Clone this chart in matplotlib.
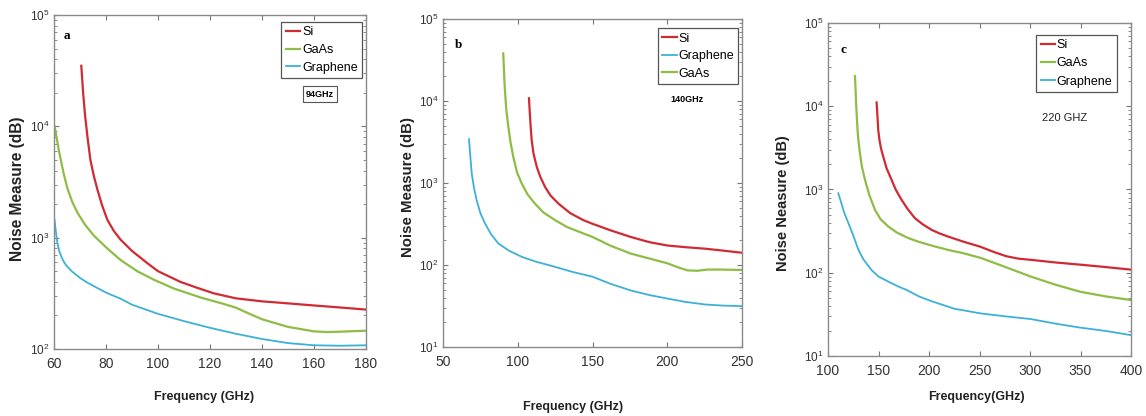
import matplotlib
matplotlib.use('Agg')
import matplotlib.pyplot as plt
from matplotlib.ticker import LogLocator, NullFormatter
import numpy as np

plt.rcParams['font.family'] = ['Liberation Sans', 'DejaVu Sans']

RED = '#d02a33'
GREEN = '#8dbd45'
BLUE = '#3cb1d6'

# (a) 94 GHz
a_si_f = [70.5, 71.2, 72, 73, 74, 75.3, 76.7, 78.5, 80.5, 83, 85.6, 90, 95.9, 100, 108.7, 115, 121.5, 130, 140, 150, 160, 170, 180]
a_si_v = [35000, 20000, 12200, 7600, 5000, 3600, 2700, 1950, 1450, 1150, 960, 760, 590, 500, 400, 355, 316, 285, 268, 257, 246, 236, 226]
a_gaas_f = [60.2, 60.6, 61.1, 61.8, 62.6, 63.8, 65.1, 67, 69, 72, 75.4, 80, 85.6, 92, 98.5, 106, 116.4, 125, 130, 135, 140, 150, 160, 165, 170, 180]
a_gaas_v = [10000, 9000, 7700, 6200, 5000, 3700, 2800, 2100, 1680, 1300, 1040, 820, 630, 500, 418, 350, 290, 255, 235, 208, 185, 158, 144, 142, 143, 146]
a_gra_f = [60.2, 60.5, 60.9, 61.3, 62, 63, 64, 65.1, 67, 70, 72.8, 76, 80, 85.6, 90, 100, 110, 120, 130, 140, 150, 160, 170, 180]
a_gra_v = [1450, 1250, 1050, 900, 760, 660, 595, 550, 495, 435, 395, 360, 321, 283, 250, 207, 178, 155, 137, 123, 113, 108, 107, 108]

# (b) 140 GHz
b_si_f = [107.5, 108, 108.6, 109.3, 110.5, 112.7, 115, 118.2, 122, 127.1, 135, 143.8, 150, 162, 175.5, 188, 200, 212, 225.4, 237, 250]
b_si_v = [10800, 7500, 5000, 3350, 2300, 1580, 1200, 900, 700, 563, 430, 353, 318, 265, 220, 190, 173, 165, 158, 150, 141]
b_gra_f = [67.4, 68.2, 69.2, 70.7, 72.5, 75, 78.1, 82, 87, 94, 102.6, 112, 124.9, 137, 150, 162, 175.5, 188, 200, 212, 225.4, 237, 250]
b_gra_v = [3420, 2200, 1310, 880, 617, 430, 321, 240, 183, 150, 126, 110, 95, 82, 72, 59, 49, 43, 39, 35.5, 33, 32, 31.5]
b_gaas_f = [90.3, 90.6, 91, 91.4, 92.3, 93.7, 95.2, 97, 99.5, 102.6, 106.5, 111.4, 117, 124.9, 133, 143.8, 150, 162, 175.5, 188, 200, 207, 213.5, 220, 227, 235, 250]
b_gaas_v = [38000, 28000, 19000, 13700, 8000, 4870, 3100, 2090, 1350, 990, 730, 563, 440, 353, 290, 243, 220, 172, 138, 120, 105, 94, 86, 85, 88, 88, 87]

# (c) 220 GHz
c_si_f = [148.1, 148.6, 149.2, 149.7, 151, 152.5, 154.6, 158, 162.9, 167, 172.8, 179, 186, 194, 202.5, 210, 218.9, 233.7, 251, 264, 276.5, 288, 300.6, 325, 350, 375, 400]
c_si_v = [11100, 9000, 6800, 5230, 3900, 3100, 2500, 1800, 1310, 1000, 752, 580, 453, 380, 328, 298, 272, 237, 205, 178, 158, 148, 143, 133, 125, 117, 109]
c_gaas_f = [126.7, 127.2, 127.8, 128.5, 129.2, 130, 131.5, 133.5, 136.6, 141, 146.5, 152, 159.6, 168, 179.4, 190, 205.7, 219, 233.7, 251, 275, 300.7, 325, 350, 375, 400]
c_gaas_v = [23000, 17000, 11000, 7500, 5300, 4000, 2800, 1900, 1310, 850, 570, 440, 360, 305, 261, 235, 207, 188, 172, 151, 118, 90, 72, 59, 52, 47]
c_gra_f = [110.2, 113, 116, 120, 125, 130, 135, 143, 150, 160, 170, 178, 190, 201.4, 225, 251, 275, 300.6, 325, 350, 375, 400]
c_gra_v = [900, 700, 530, 400, 280, 190, 145, 108, 90, 78, 68, 62, 52, 46, 37, 32.5, 30, 27.8, 24.5, 21.9, 20, 17.8]

W, H = 1146, 416
fig = plt.figure(figsize=(W / 100, H / 100), dpi=100)


def px_axes(left, top, right, bottom):
    return fig.add_axes([left / W, 1 - bottom / H, (right - left) / W, (bottom - top) / H])


def style(ax, xlim, xticks, ylim):
    ax.set_yscale('log')
    ax.set_xlim(*xlim)
    ax.set_ylim(*ylim)
    ax.set_xticks(xticks)
    ax.yaxis.set_major_locator(LogLocator(base=10, numticks=10))
    ax.yaxis.set_minor_locator(LogLocator(base=10, subs=np.arange(2, 10), numticks=20))
    ax.yaxis.set_minor_formatter(NullFormatter())
    ax.tick_params(which='both', direction='in', top=True, right=True, colors='#777777',
                   labelcolor='#333333')
    ax.tick_params(which='major', length=3.5, width=0.8)
    ax.tick_params(which='minor', length=2, width=0.6)
    ax.tick_params(axis='x', labelsize=10, pad=6)
    ax.tick_params(axis='y', labelsize=8.5, pad=3)
    for s in ax.spines.values():
        s.set_color('#8a8a8a')
        s.set_linewidth(1.0)


def legend(ax, anchor, spacing):
    leg = ax.legend(loc='upper right', bbox_to_anchor=anchor, fontsize=9,
                    handlelength=1.15, handletextpad=0.15, labelspacing=spacing,
                    borderpad=0.35, borderaxespad=0, fancybox=False, framealpha=1,
                    edgecolor='#555555')
    leg.get_frame().set_linewidth(0.9)


# panel a
ax1 = px_axes(54, 15, 366, 349)
ax1.plot(a_si_f, a_si_v, color=RED, lw=1.6, label='Si')
ax1.plot(a_gaas_f, a_gaas_v, color=GREEN, lw=1.6, label='GaAs')
ax1.plot(a_gra_f, a_gra_v, color=BLUE, lw=1.3, label='Graphene')
style(ax1, (60, 180), [60, 80, 100, 120, 140, 160, 180], (1e2, 1e5))
legend(ax1, (0.987, 0.979), 0.45)
ax1.text(0.032, 0.937, 'a', transform=ax1.transAxes, fontsize=9.5, fontweight='bold',
         family='Liberation Serif', va='center')
ax1.text(0.853, 0.763, '94GHz', transform=ax1.transAxes, fontsize=6.5, fontweight='bold',
         ha='center', va='center',
         bbox=dict(boxstyle='square,pad=0.35', facecolor='white', edgecolor='#555555', lw=0.8))

# panel b
ax2 = px_axes(443, 19, 742, 347)
ax2.plot(b_si_f, b_si_v, color=RED, lw=1.6, label='Si')
ax2.plot(b_gra_f, b_gra_v, color=BLUE, lw=1.3, label='Graphene')
ax2.plot(b_gaas_f, b_gaas_v, color=GREEN, lw=1.6, label='GaAs')
style(ax2, (50, 250), [50, 100, 150, 200, 250], (1e1, 1e5))
legend(ax2, (0.988, 0.972), 0.45)
ax2.text(0.04, 0.92, 'b', transform=ax2.transAxes, fontsize=9.5, fontweight='bold',
         family='Liberation Serif', va='center')
ax2.text(0.815, 0.754, '140GHz', transform=ax2.transAxes, fontsize=6.5, fontweight='bold',
         ha='center', va='center')

# panel c
ax3 = px_axes(828, 23, 1131, 356)
ax3.plot(c_si_f, c_si_v, color=RED, lw=1.6, label='Si')
ax3.plot(c_gaas_f, c_gaas_v, color=GREEN, lw=1.6, label='GaAs')
ax3.plot(c_gra_f, c_gra_v, color=BLUE, lw=1.3, label='Graphene')
style(ax3, (100, 400), [100, 150, 200, 250, 300, 350, 400], (1e1, 1e5))
legend(ax3, (0.953, 0.965), 0.5)
ax3.text(0.04, 0.92, 'c', transform=ax3.transAxes, fontsize=9.5, fontweight='bold',
         family='Liberation Serif', va='center')
ax3.text(0.782, 0.714, '220 GHZ', transform=ax3.transAxes, fontsize=8,
         ha='center', va='center', color='#222222')

# axis titles
for x, y, s, fs in [(18, 189, 'Noise Measure (dB)', 11.2),
                    (408, 187, 'Noise Measure (dB)', 10.8),
                    (783, 203, 'Noise Neasure (dB)', 10.5)]:
    fig.text(x / W, 1 - y / H, s, rotation=90, fontsize=fs, fontweight='bold',
             ha='center', va='center', color='#222222')

for x, y, s in [(204, 397, 'Frequency (GHz)'),
                (573, 407, 'Frequency (GHz)'),
                (976, 397, 'Frequency(GHz)')]:
    fig.text(x / W, 1 - y / H, s, fontsize=9, fontweight='bold',
             ha='center', va='center', color='#222222')

fig.savefig('out.png', dpi=100)
